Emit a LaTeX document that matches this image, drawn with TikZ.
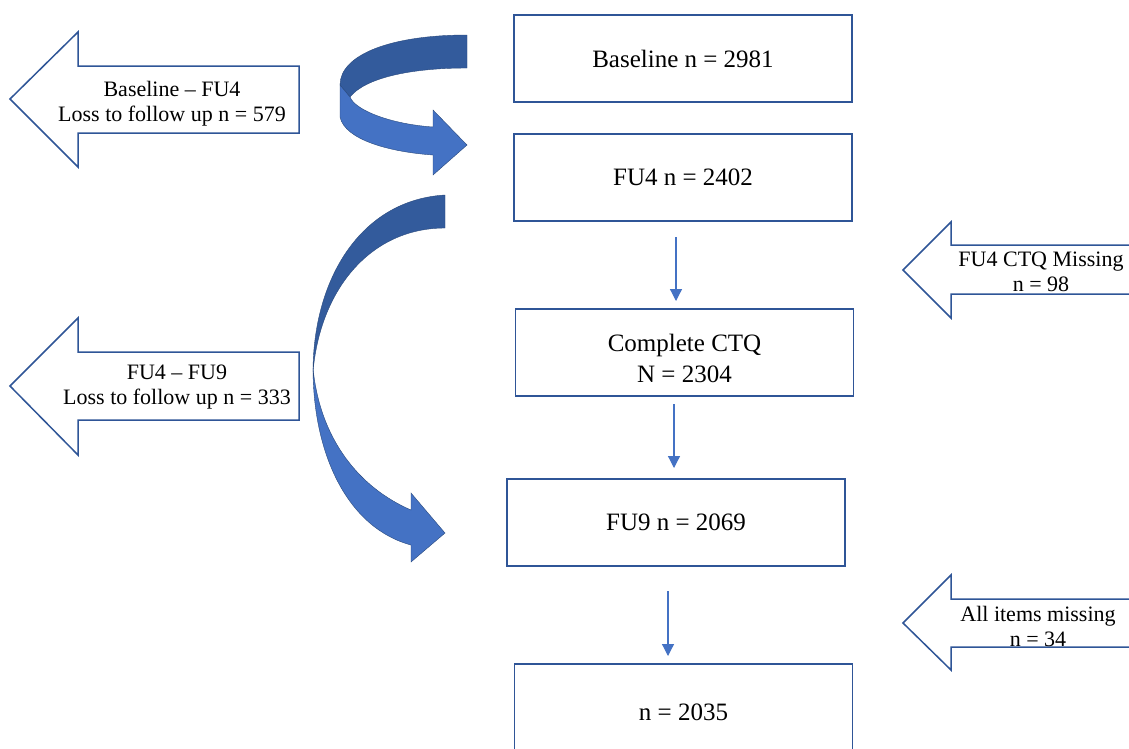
\documentclass[tikz,border=0pt]{standalone}
\usepackage{fontspec}
\setmainfont{Liberation Serif}
\usetikzlibrary{arrows.meta}
\definecolor{boxblue}{HTML}{2F5597}
\definecolor{darkband}{HTML}{335B9C}
\definecolor{lightband}{HTML}{4472C4}
\tikzset{
  stagebox/.style={draw=boxblue, line width=1.5pt, fill=white, inner sep=0pt,
    minimum width=338pt, minimum height=87pt, align=center,
    font=\fontsize{25}{31}\selectfont},
  stagetext/.style={inner sep=0pt, align=center, font=\fontsize{25}{31}\selectfont},
  blockarrow/.style={draw=boxblue, line width=1.5pt, fill=white, line join=miter},
  arrowtext/.style={align=center, inner sep=0pt, font=\fontsize{22}{25}\selectfont},
  flow/.style={draw=lightband, line width=1.2pt, -{Triangle[width=12pt,length=12pt]}},
  dark/.style={fill=darkband, draw=darkband!80!black, line width=0.4pt},
  light/.style={fill=lightband, draw=darkband!80!black, line width=0.4pt}
}
\begin{document}
\begin{tikzpicture}[x=1pt,y=-1pt]
\clip (0,0) rectangle (1129,748);
\fill[white] (0,0) rectangle (1129,748);

% stage boxes
\node[stagebox] (base) at (683,58.5) {Baseline n = 2981};
\node[stagebox] (fu4) at (683,177.5) {FU4 n = 2402};
\node[stagebox] (ctq) at (684.5,352.5) {};
\node[stagetext] (ctqtext) at (684.5,358) {Complete CTQ\\N = 2304};
\node[stagebox] (fu9) at (676,522.5) {FU9 n = 2069};
\node[stagebox, minimum height=96pt] (final) at (683.5,712) {n = 2035};

% small flow arrows
\coordinate (a1s) at (676,237); \coordinate (a1e) at (676,301);
\coordinate (a2s) at (674,404); \coordinate (a2e) at (674,468);
\coordinate (a3s) at (668,591); \coordinate (a3e) at (668,656);
\draw[flow] (a1s) -- (a1e);
\draw[flow] (a2s) -- (a2e);
\draw[flow] (a3s) -- (a3e);

% left block arrows
\draw[blockarrow] (10,99) -- (78,32) -- (78,66) -- (299,66) -- (299,133) -- (78,133) -- (78,167) -- cycle;
\node[arrowtext] (loss1) at (172,103.5) {Baseline -- FU4\\Loss to follow up n = 579};
\draw[blockarrow] (10,386) -- (78,318) -- (78,352) -- (299,352) -- (299,420) -- (78,420) -- (78,455) -- cycle;
\node[arrowtext] (loss2) at (177,387.5) {FU4 -- FU9\\Loss to follow up n = 333};

% right block arrows
\draw[blockarrow] (903,270) -- (951,222) -- (951,245) -- (1140,245) -- (1140,294) -- (951,294) -- (951,318) -- cycle;
\node[arrowtext] (miss1) at (1041,271.5) {FU4 CTQ Missing\\n = 98};
\draw[blockarrow] (903,623) -- (951,575) -- (951,599) -- (1140,599) -- (1140,647) -- (951,647) -- (951,670) -- cycle;
\node[arrowtext] (miss2) at (1038,626.5) {All items missing\\n = 34};

% curved arrow baseline -> FU4
\path[dark] (467,35) .. controls (390,35) and (340,55) .. (340,85)
  -- (350,97) .. controls (365,78) and (410,68) .. (467,68) -- cycle;
\path[light] (340,85) -- (340,117) .. controls (345,140) and (390,152) .. (433,155)
  -- (433,175) -- (467,145) -- (433,110) -- (433,127)
  .. controls (390,124) and (355,110) .. (350,97) -- cycle;

% curved arrow FU4 -> FU9
\path[dark] (445,195) .. controls (360,200) and (313,280) .. (313,372)
  .. controls (320,290) and (370,228) .. (445,228) -- cycle;
\path[light] (313,368) .. controls (313,455) and (348,528) .. (411,545)
  -- (411,562) -- (445,533) -- (411,493) -- (411,510)
  .. controls (360,488) and (320,440) .. (313,368) -- cycle;
\end{tikzpicture}
\end{document}
